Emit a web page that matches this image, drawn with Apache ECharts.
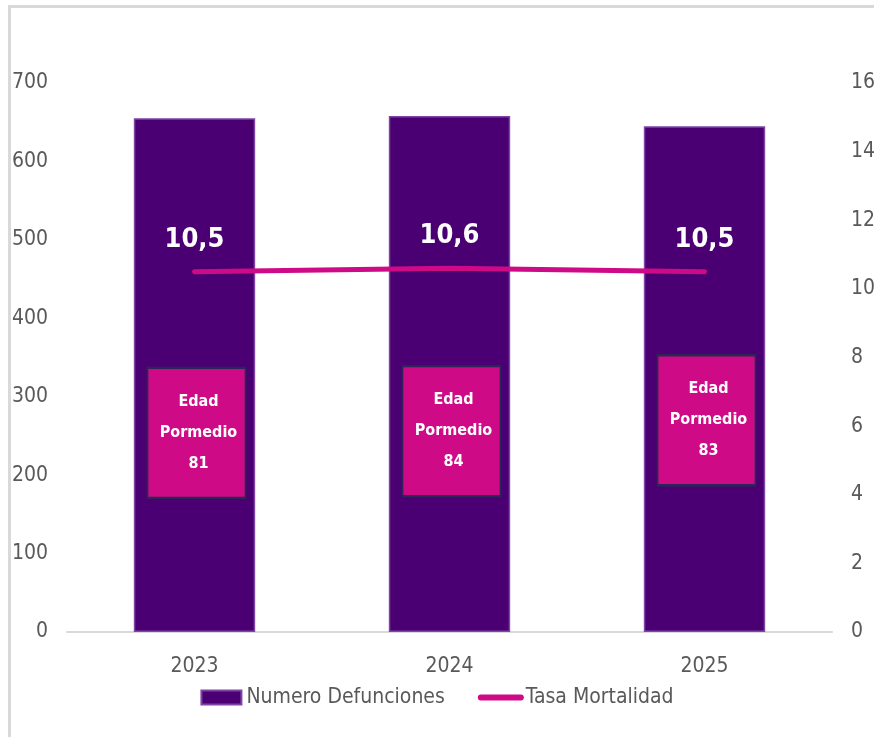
<!DOCTYPE html>
<html>
<head>
<meta charset="utf-8">
<script src="https://cdn.jsdelivr.net/npm/echarts@6/dist/echarts.min.js"></script>
<style>
html,body{margin:0;padding:0;background:#fff;}
#c{width:874px;height:737px;position:relative;}
#frame{position:absolute;left:8px;top:5px;width:866px;height:732px;border-left:3px solid #d9d9d9;border-top:3px solid #d9d9d9;box-sizing:border-box;pointer-events:none;}
</style>
</head>
<body>
<div style="position:relative;width:874px;height:737px;">
<div id="c"></div>
<div id="frame"></div>
</div>
<script>
const categories = ['2023', '2024', '2025'];
const deaths = [655, 658, 645];
const mortalityRate = [10.5, 10.6, 10.5];
const avgAge = [81, 84, 83];
const boxLevel = [254, 256, 270];
const leftTicks = [0, 700, 100];
const rightTicks = [0, 16, 2];

const FONT = "'DejaVu Sans Condensed', 'DejaVu Sans', sans-serif";
const chart = echarts.init(document.getElementById('c'), null, {renderer: 'canvas'});
chart.setOption({
  animation: false,
  textStyle: {fontFamily: FONT},
  grid: {left: 67, right: 42, top: 83, bottom: 105, containLabel: false, outerBoundsMode: 'none'},
  legend: {
    bottom: 24, left: 'center', itemGap: 33, itemWidth: 40, itemHeight: 14,
    textStyle: {fontSize: 21, color: '#595959', fontFamily: FONT},
    data: [
      {name: 'Numero Defunciones', icon: 'rect'},
      {name: 'Tasa Mortalidad', itemStyle: {opacity: 0}, lineStyle: {width: 6, cap: 'round', color: '#CF0A87'}}
    ]
  },
  xAxis: {
    type: 'category', data: categories,
    axisLine: {lineStyle: {color: '#d9d9d9', width: 2}},
    axisTick: {show: false},
    axisLabel: {fontSize: 21, color: '#595959', margin: 24, fontFamily: FONT}
  },
  yAxis: [{
    type: 'value', min: leftTicks[0], max: leftTicks[1], interval: leftTicks[2],
    splitLine: {show: false}, axisLine: {show: false}, axisTick: {show: false},
    axisLabel: {fontSize: 21, color: '#595959', margin: 19, fontFamily: FONT}
  }, {
    type: 'value', min: rightTicks[0], max: rightTicks[1], interval: rightTicks[2],
    splitLine: {show: false}, axisLine: {show: false}, axisTick: {show: false},
    axisLabel: {fontSize: 21, color: '#595959', margin: 19, fontFamily: FONT}
  }],
  series: [{
    name: 'Numero Defunciones', type: 'bar', data: deaths, barWidth: '47.6%',
    itemStyle: {color: '#4A0072', borderColor: '#7E45A6', borderWidth: 1.5}
  }, {
    name: 'Cajas', type: 'scatter', yAxisIndex: 0, z: 5,
    data: boxLevel.map((v, i) => ({value: [categories[i], v], age: avgAge[i]})),
    symbol: 'rect', symbolSize: [98, 130], symbolOffset: [2, 0],
    itemStyle: {color: '#CF0A87', borderColor: '#2B2657', borderWidth: 2, opacity: 1},
    label: {
      show: true, position: 'inside', offset: [2, 0], color: '#fff', fontWeight: 'bold', fontSize: 16,
      lineHeight: 31, fontFamily: FONT,
      formatter: p => 'Edad\nPormedio\n' + p.data.age
    },
    silent: true, legendHoverLink: false
  }, {
    name: 'Tasa Mortalidad', type: 'line', yAxisIndex: 1, data: mortalityRate, z: 6,
    symbol: 'circle', symbolSize: 1, showSymbol: true,
    lineStyle: {color: '#CF0A87', width: 5, cap: 'round'},
    itemStyle: {color: '#CF0A87'},
    label: {
      show: true, position: 'top', distance: 18, color: '#fff', fontWeight: 'bold',
      fontSize: 27, fontFamily: FONT,
      formatter: p => p.value.toFixed(1).replace('.', ',')
    }
  }]
});
</script>
</body>
</html>
